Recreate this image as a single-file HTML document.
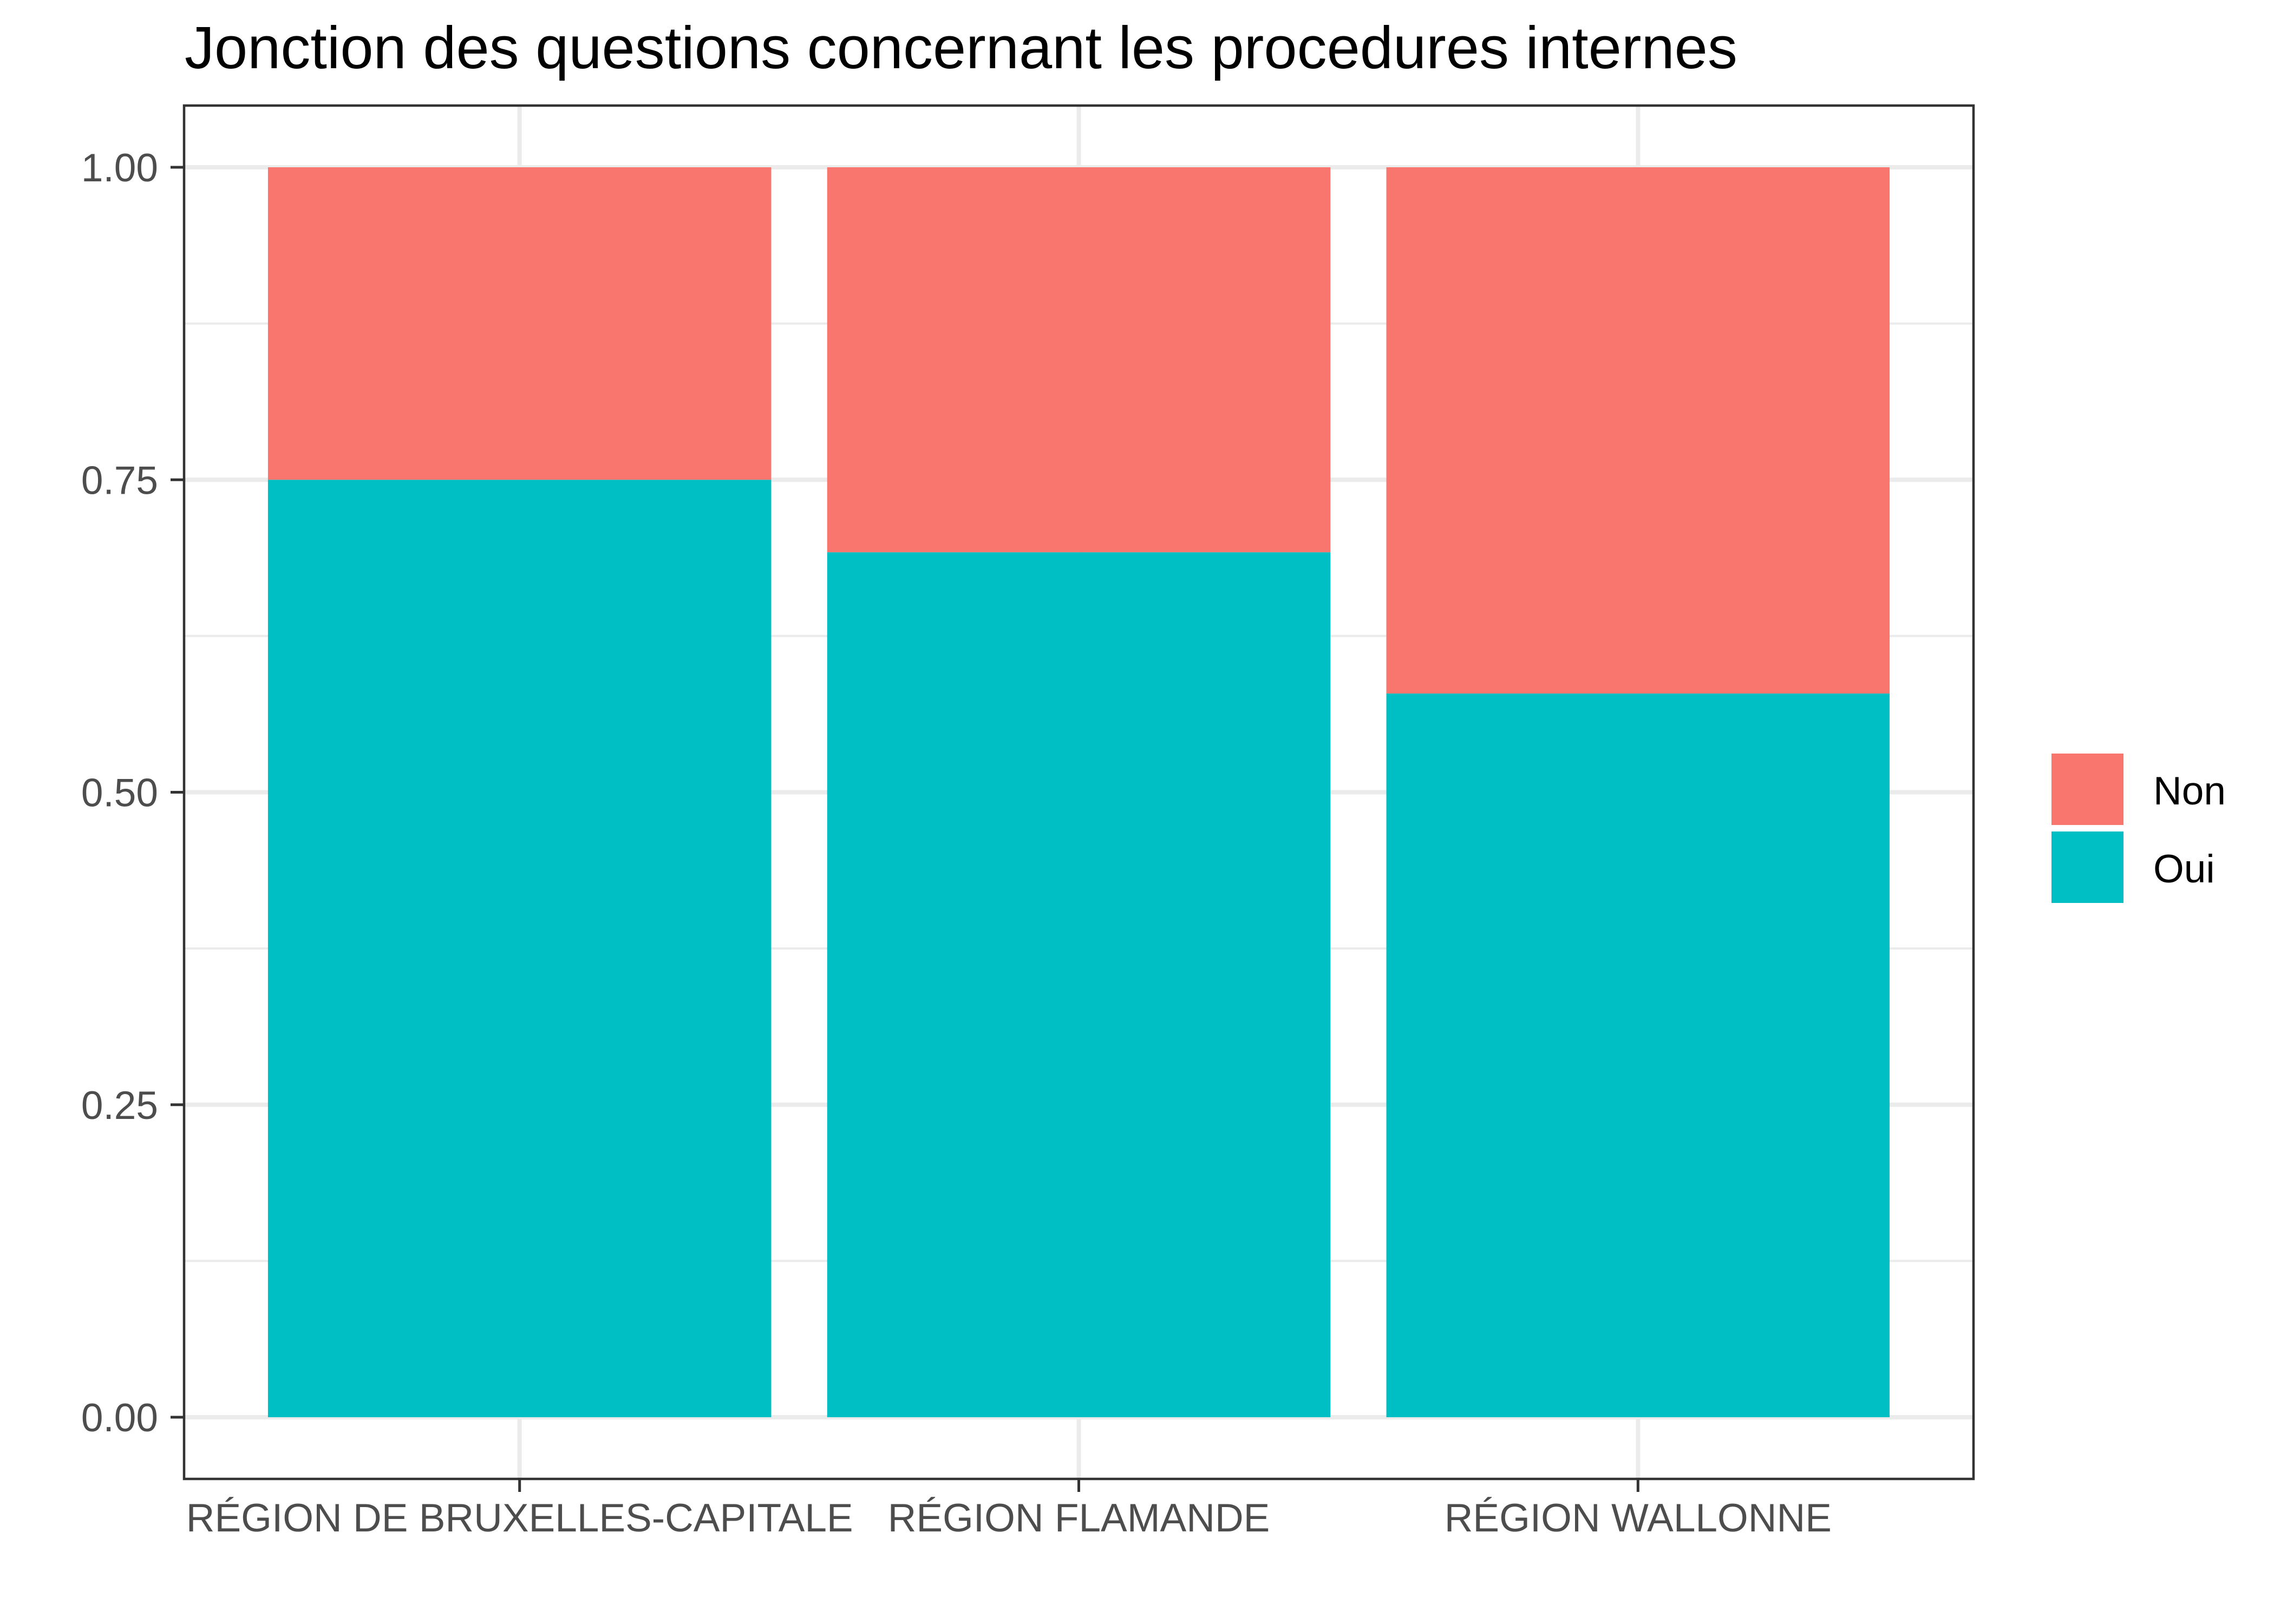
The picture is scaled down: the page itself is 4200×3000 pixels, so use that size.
<!DOCTYPE html>
<html><head><meta charset="utf-8"><style>
html,body{margin:0;padding:0;background:#fff;}
svg{display:block;font-family:"Liberation Sans",Arial,sans-serif;}
</style></head><body>
<svg id="chart" width="4200" height="3000" viewBox="0 0 4200 3000" xmlns="http://www.w3.org/2000/svg">
<rect x="0" y="0" width="4200" height="3000" fill="#fff"/>
<text x="341" y="126" font-size="110" fill="#000">Jonction des questions concernant les procedures internes</text>
<g id="grid"></g>
<g id="bars"></g>
<rect x="340" y="195" width="3305" height="2537" fill="none" stroke="#333" stroke-width="4.5"/>
<g id="axes"></g>
<g id="legend">
<rect x="3789" y="1392" width="133" height="132" fill="#F8766D"/>
<rect x="3789" y="1536" width="133" height="132" fill="#00BFC4"/>
<text x="3977" y="1486" font-size="73" fill="#000">Non</text>
<text x="3977" y="1630" font-size="73" fill="#000">Oui</text>
</g>
</svg>
<script>
const categories = ["RÉGION DE BRUXELLES-CAPITALE", "RÉGION FLAMANDE", "RÉGION WALLONNE"];
const ouiValues = [0.75, 0.692, 0.579];
const nonValues = [0.25, 0.308, 0.421];
const yTicks = [0, 0.25, 0.5, 0.75, 1];
const yTickLabels = ["0.00", "0.25", "0.50", "0.75", "1.00"];

const NS = "http://www.w3.org/2000/svg";
const PL = 340, PR = 3645, PT = 195, PB = 2732;
const Y0 = 2618, Y1 = 309;
function yScale(v){ return Y0 + (Y1 - Y0) * v; }
const unit = (PR - PL) / (categories.length + 0.2);
function xScale(i){ return PL + (i + 0.6) * unit; }
const barW = 0.9 * unit;

function mk(tag, attrs, parent){
  const el = document.createElementNS(NS, tag);
  for (const k in attrs) el.setAttribute(k, attrs[k]);
  parent.appendChild(el);
  return el;
}
const grid = document.getElementById('grid');
const bars = document.getElementById('bars');
const axes = document.getElementById('axes');

// minor gridlines
for (let i = 0; i < yTicks.length - 1; i++) {
  const v = (yTicks[i] + yTicks[i+1]) / 2;
  const l = mk('line', {x1: PL, x2: PR, y1: yScale(v), y2: yScale(v), stroke: '#EBEBEB', 'stroke-width': 4}, grid);
  
  
}
yTicks.forEach((v, i) => {
  const l = mk('line', {x1: PL, x2: PR, y1: yScale(v), y2: yScale(v), stroke: '#EBEBEB', 'stroke-width': 8}, grid);
  
  
  const t = mk('line', {x1: 315, x2: PL, y1: yScale(v), y2: yScale(v), stroke: '#333', 'stroke-width': 5}, axes);
  
  
  const tx = mk('text', {x: 292, y: yScale(v) + 26, 'text-anchor': 'end', 'font-size': 73, fill: '#4D4D4D'}, axes);
  tx.textContent = yTickLabels[i];
  
  
});
categories.forEach((c, i) => {
  const cx = xScale(i);
  const g = mk('line', {x1: cx, x2: cx, y1: PT, y2: PB, stroke: '#EBEBEB', 'stroke-width': 8}, grid);
  
  
  const ob = mk('rect', {x: cx - barW/2, y: yScale(ouiValues[i]), width: barW, height: yScale(0) - yScale(ouiValues[i]), fill: '#00BFC4'}, bars);
  
  
  const top = ouiValues[i] + nonValues[i];
  const nb = mk('rect', {x: cx - barW/2, y: yScale(top), width: barW, height: yScale(ouiValues[i]) - yScale(top), fill: '#F8766D'}, bars);
  
  
  const t = mk('line', {x1: cx, x2: cx, y1: PB, y2: PB + 24, stroke: '#333', 'stroke-width': 5}, axes);
  
  
  const tx = mk('text', {x: cx, y: 2829, 'text-anchor': 'middle', 'font-size': 73, fill: '#4D4D4D'}, axes);
  tx.textContent = c;
  
  
});
</script>
</body></html>
